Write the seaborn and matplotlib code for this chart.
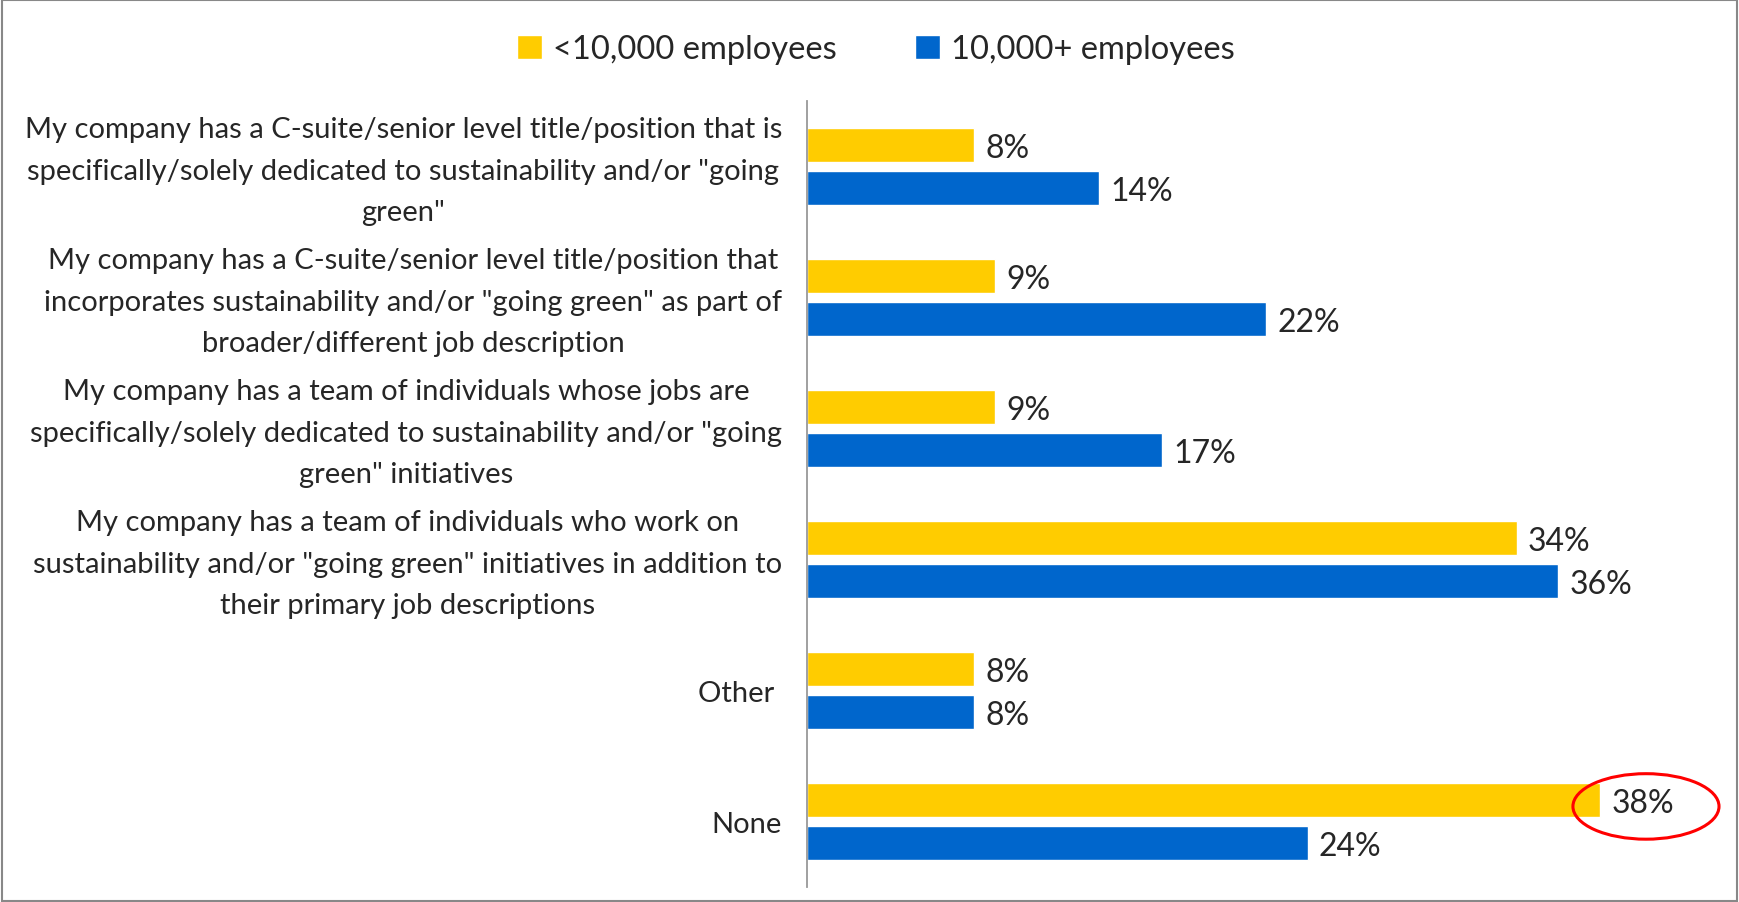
import matplotlib
matplotlib.use("Agg")
import matplotlib.pyplot as plt
import matplotlib.transforms as mtransforms
from matplotlib.patches import Ellipse
import seaborn as sns
import pandas as pd

# chart values
categories = [
    'My company has a C-suite/senior level title/position that is\nspecifically/solely dedicated to sustainability and/or "going\ngreen"',
    'My company has a C-suite/senior level title/position that\nincorporates sustainability and/or "going green" as part of\nbroader/different job description',
    'My company has a team of individuals whose jobs are\nspecifically/solely dedicated to sustainability and/or "going\ngreen" initiatives',
    'My company has a team of individuals who work on\nsustainability and/or "going green" initiatives in addition to\ntheir primary job descriptions',
    'Other ',
    'None',
]
small_firms = [8, 9, 9, 34, 8, 38]
large_firms = [14, 22, 17, 36, 8, 24]
series_names = ['<10,000 employees', '10,000+ employees']
colors = ['#FFCC00', '#0066CC']

df = pd.DataFrame({
    'category': categories * 2,
    'value': small_firms + large_firms,
    'group': [series_names[0]] * len(categories) + [series_names[1]] * len(categories),
})

sns.set_style('white')
plt.rcParams['font.family'] = ['Lato', 'DejaVu Sans']

fig = plt.figure(figsize=(17.39, 9.03), dpi=100)
ax = fig.add_axes([807 / 1739, 1 - 888 / 903, 0.98 - 807 / 1739, (888 - 102) / 903])

sns.barplot(data=df, y='category', x='value', hue='group', orient='h',
            palette=colors, saturation=1, width=0.66, gap=0.21, ax=ax, legend=True)

ax.set_xlim(0, (0.98 * 1739 - 807) / 20.87)
ax.set_ylim(len(categories) - 0.5, -0.5)
ax.set_xlabel('')
ax.set_ylabel('')
ax.set_xticks([])
for s in ['top', 'right', 'bottom']:
    ax.spines[s].set_visible(False)
ax.spines['left'].set_color('#999999')
ax.spines['left'].set_linewidth(1.3)
ax.tick_params(axis='y', length=0, pad=18)
shift_up = mtransforms.ScaledTranslation(0, 6 / 100, fig.dpi_scale_trans)
for lbl in ax.get_yticklabels():
    lbl.set_fontsize(21)
    lbl.set_multialignment('center')
    lbl.set_linespacing(1.72)
    if '\n' in lbl.get_text():
        lbl.set_transform(lbl.get_transform() + shift_up)

for cont in ax.containers:
    txts = ax.bar_label(cont, labels=[f'{v:.0f}%' for v in cont.datavalues],
                        padding=8, fontsize=23)
    for t in txts:
        t.set_va('center_baseline')

# red ellipse around the "None" value for small firms
none_idx = categories.index('None')
ax.add_patch(Ellipse((small_firms[none_idx] + 2.2, none_idx - 0.115), 7.0, 0.5,
                     fill=False, edgecolor='#FF0000', linewidth=2.2, clip_on=False))

handles, labels = ax.get_legend_handles_labels()
ax.legend(handles, labels, loc='center', bbox_to_anchor=(876 / 1739, 1 - 50 / 903),
          bbox_transform=fig.transFigure, ncol=2, frameon=False, fontsize=23.5,
          handlelength=0.75, handleheight=0.75, handletextpad=0.35, columnspacing=2.4)

# thin grey border around the chart area
fig.patches.append(plt.Rectangle((0.001, 0.001), 0.998, 0.998, transform=fig.transFigure,
                                 fill=False, edgecolor='#888888', linewidth=1.5))

fig.savefig('out.png', dpi=100)
